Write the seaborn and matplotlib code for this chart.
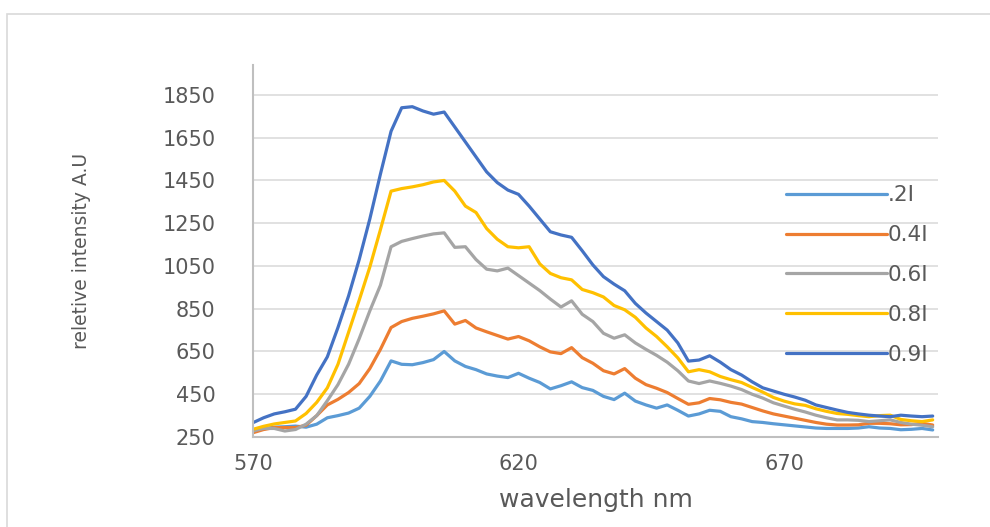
import pandas as pd
import seaborn as sns
import matplotlib.pyplot as plt
from matplotlib.patches import Rectangle

# wavelength grid (nm) shared by all spectra
wavelength = [570, 572, 574, 576, 578, 580, 582, 584, 586, 588,
              590, 592, 594, 596, 598, 600, 602, 604, 606, 608,
              610, 612, 614, 616, 618, 620, 622, 624, 626, 628,
              630, 632, 634, 636, 638, 640, 642, 644, 646, 648,
              650, 652, 654, 656, 658, 660, 662, 664, 666, 668,
              670, 672, 674, 676, 678, 680, 682, 684, 686, 688,
              690, 692, 694, 696, 698]

i_02 = [278, 288, 296, 298, 301, 296, 310, 340, 350, 362,
        385, 440, 512, 606, 590, 588, 598, 612, 650, 606,
        580, 565, 545, 535, 528, 548, 525, 505, 475, 490,
        508, 481, 468, 440, 425, 455, 418, 400, 385, 400,
        375, 348, 358, 375, 370, 345, 335, 322, 318, 312,
        307, 302, 297, 292, 290, 290, 290, 292, 298, 292,
        290, 284, 286, 290, 283]

i_04 = [270, 285, 294, 294, 294, 305, 350, 400, 426, 458,
        500, 570, 660, 762, 790, 805, 815, 826, 840, 778,
        795, 760, 742, 725, 708, 720, 700, 672, 648, 640,
        668, 621, 595, 560, 545, 570, 525, 495, 478, 458,
        430, 403, 410, 430, 424, 412, 404, 388, 372, 358,
        348, 338, 328, 318, 310, 306, 306, 307, 314, 314,
        312, 307, 308, 314, 306]

i_06 = [278, 290, 290, 278, 285, 310, 350, 420, 495, 590,
        710, 840, 960, 1140, 1165, 1178, 1190, 1200, 1205, 1137,
        1140, 1080, 1035, 1027, 1040, 1005, 970, 935, 895, 858,
        887, 824, 790, 735, 712, 728, 690, 660, 632, 600,
        560, 512, 500, 512, 501, 488, 472, 450, 432, 410,
        395, 380, 367, 352, 340, 330, 330, 328, 322, 326,
        330, 318, 310, 305, 298]

i_08 = [286, 300, 311, 318, 325, 360, 412, 480, 590, 740,
        890, 1045, 1220, 1400, 1412, 1420, 1430, 1443, 1450, 1400,
        1330, 1300, 1225, 1175, 1140, 1135, 1140, 1060, 1015, 995,
        985, 940, 925, 905, 865, 845, 810, 760, 720, 672,
        620, 555, 565, 555, 533, 518, 505, 482, 460, 435,
        418, 405, 398, 382, 370, 360, 356, 350, 345, 350,
        352, 332, 326, 322, 330]

i_09 = [317, 340, 358, 368, 380, 440, 540, 625, 762, 910,
        1080, 1270, 1480, 1680, 1790, 1795, 1775, 1760, 1770, 1700,
        1630, 1560, 1490, 1440, 1405, 1385, 1330, 1270, 1210, 1195,
        1184, 1121, 1055, 1000, 965, 934, 875, 830, 790, 750,
        690, 605, 610, 630, 600, 565, 540, 508, 480, 465,
        450, 437, 422, 400, 388, 376, 365, 358, 352, 348,
        345, 352, 348, 345, 348]

labels = ['.2I', '0.4I', '0.6I', '0.8I', '0.9I']
colors = ['#5B9BD5', '#ED7D31', '#A5A5A5', '#FFC000', '#4472C4']
y_ticks = [250, 450, 650, 850, 1050, 1250, 1450, 1650, 1850]
x_ticks = [570, 620, 670]

# long format table for seaborn
frames = []
for lab, vals in zip(labels, [i_02, i_04, i_06, i_08, i_09]):
    frames.append(pd.DataFrame({'wavelength': wavelength, 'intensity': vals, 'series': lab}))
df = pd.concat(frames, ignore_index=True)

sns.set_style('white')
plt.rcParams['font.family'] = ['DejaVu Sans']

fig = plt.figure(figsize=(9.9, 5.27), dpi=100)
ax = fig.add_axes([253 / 990, 1 - 437 / 527, 685 / 990, 372 / 527])

# chart area border (only left and top visible in the crop)
fig.patches.append(Rectangle((7 / 990, -0.1), 1.2, 1 - 14 / 527 + 0.1,
                             transform=fig.transFigure, fill=False,
                             edgecolor='#d9d9d9', linewidth=1.2))

sns.lineplot(data=df, x='wavelength', y='intensity', hue='series',
             hue_order=labels, palette=dict(zip(labels, colors)),
             linewidth=2.3, ax=ax, legend=False, estimator=None)

ax.set_xlim(570, 699)
ax.set_ylim(250, 1990)
ax.set_xticks(x_ticks)
ax.set_yticks(y_ticks)
ax.grid(axis='y', color='#d9d9d9', linewidth=1.1)
ax.grid(axis='x', visible=False)
ax.set_axisbelow(True)
for side in ['top', 'right']:
    ax.spines[side].set_visible(False)
ax.spines['left'].set_color('#bfbfbf')
ax.spines['bottom'].set_color('#bfbfbf')
ax.spines['left'].set_linewidth(1.5)
ax.spines['bottom'].set_linewidth(1.5)
ax.tick_params(axis='both', length=0, labelsize=15, colors='#595959')
ax.tick_params(axis='y', pad=27)
ax.tick_params(axis='x', pad=12)

ax.set_xlabel('wavelength nm', fontsize=18, color='#595959', labelpad=10)
ax.set_ylabel('reletive intensity A.U', fontsize=13.5, color='#595959', va='center')
ax.yaxis.set_label_coords((82 - 253) / 685, (437 - 251) / 372)

handles = [plt.Line2D([], [], color=c, linewidth=2.3) for c in colors]
fig.legend(handles, labels, loc='center left',
           bbox_to_anchor=(775 / 990, 1 - 275 / 527),
           frameon=False, fontsize=15.5, handlelength=4.7, handletextpad=0.05,
           labelspacing=0.92, borderpad=0, labelcolor='#595959')

fig.savefig('out.png', dpi=100)
